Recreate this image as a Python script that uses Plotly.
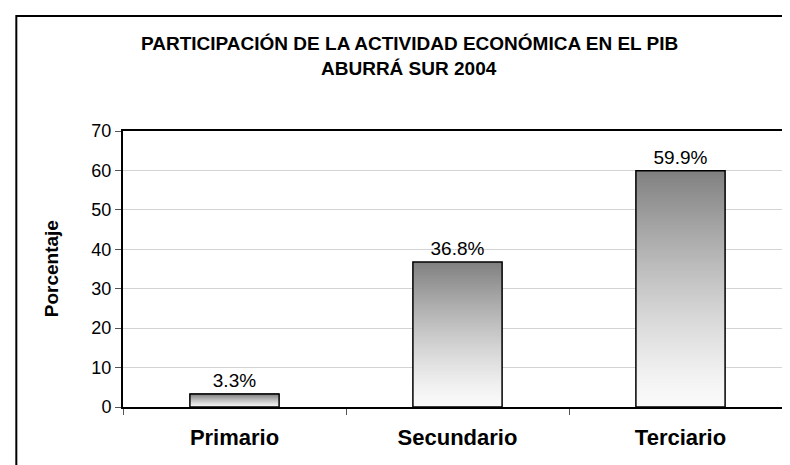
import plotly.graph_objects as go

categories = ["Primario", "Secundario", "Terciario"]
values = [3.3, 36.8, 59.9]
value_labels = ["3.3%", "36.8%", "59.9%"]
y_ticks = [0, 10, 20, 30, 40, 50, 60, 70]

FONT = "Liberation Sans, Arial, sans-serif"
N_STEPS = 100


def shade(t):
    # t = 0 at bar bottom, 1 at bar top: near white -> mid gray
    g = int(round(250 - 122 * t ** 1.3))
    return f"rgb({g},{g},{g})"


fig = go.Figure()

# gradient fill: each bar is cut into thin slices of its own value,
# each slice a bit taller than its step so no seams show
for k in range(N_STEPS):
    stretch = 1.0 if k == N_STEPS - 1 else 1.8
    fig.add_trace(go.Bar(
        x=categories,
        y=[v / N_STEPS * stretch for v in values],
        base=[v * k / N_STEPS for v in values],
        marker=dict(color=shade((k + 0.5) / N_STEPS), line=dict(width=0)),
        hoverinfo="skip",
        showlegend=False,
    ))

# outline + labels
fig.add_trace(go.Bar(
    x=categories,
    y=values,
    marker=dict(color="rgba(0,0,0,0)", line=dict(color="black", width=1.5)),
    text=value_labels,
    textposition="outside",
    textfont=dict(family=FONT, size=19, color="black"),
    cliponaxis=False,
    showlegend=False,
))

title_x = (402 - 115) / 671

fig.update_layout(
    width=790, height=465,
    margin=dict(l=115, r=4, t=123, b=66),
    barmode="overlay",
    bargap=0.6,
    plot_bgcolor="white",
    paper_bgcolor="white",
    font=dict(family=FONT, color="black"),
    annotations=[
        dict(text="<b>PARTICIPACIÓN DE LA ACTIVIDAD ECONÓMICA EN EL PIB</b>",
             xref="paper", yref="paper", x=title_x, y=(399 - 36) / 276,
             showarrow=False, font=dict(size=19, family=FONT), xanchor="center", yanchor="middle"),
        dict(text="<b>ABURRÁ SUR 2004</b>",
             xref="paper", yref="paper", x=title_x, y=(399 - 61) / 276,
             showarrow=False, font=dict(size=19, family=FONT), xanchor="center", yanchor="middle"),
        dict(text="<b>Porcentaje</b>", textangle=-90,
             xref="paper", yref="paper", x=(43 - 115) / 671, y=0.5,
             showarrow=False, font=dict(size=19, family=FONT), xanchor="center", yanchor="middle"),
    ],
    shapes=[
        dict(type="rect", xref="paper", yref="paper",
             x0=(8 - 115) / 671, x1=2, y0=-1, y1=(399 - 8) / 276,
             line=dict(color="black", width=2), fillcolor="rgba(0,0,0,0)", layer="below"),
    ],
)

fig.update_xaxes(
    type="category",
    showline=True, linecolor="black", linewidth=2, mirror=True,
    ticks="outside", tickson="boundaries", ticklen=6, tickcolor="#555555",
    tickfont=dict(size=22, family=FONT, color="black"),
    ticklabelstandoff=10,
    showgrid=False,
    tickvals=categories,
    ticktext=["<b>%s</b>" % c for c in categories],
)

fig.update_yaxes(
    range=[0, 70],
    tickvals=y_ticks,
    showline=True, linecolor="black", linewidth=2, mirror=True,
    ticks="outside", ticklen=6, tickcolor="#555555",
    tickfont=dict(size=18, family=FONT, color="black"),
    showgrid=True, gridcolor="#d4d4d4", gridwidth=1,
    zeroline=False,
)

fig.write_html("out.html")
